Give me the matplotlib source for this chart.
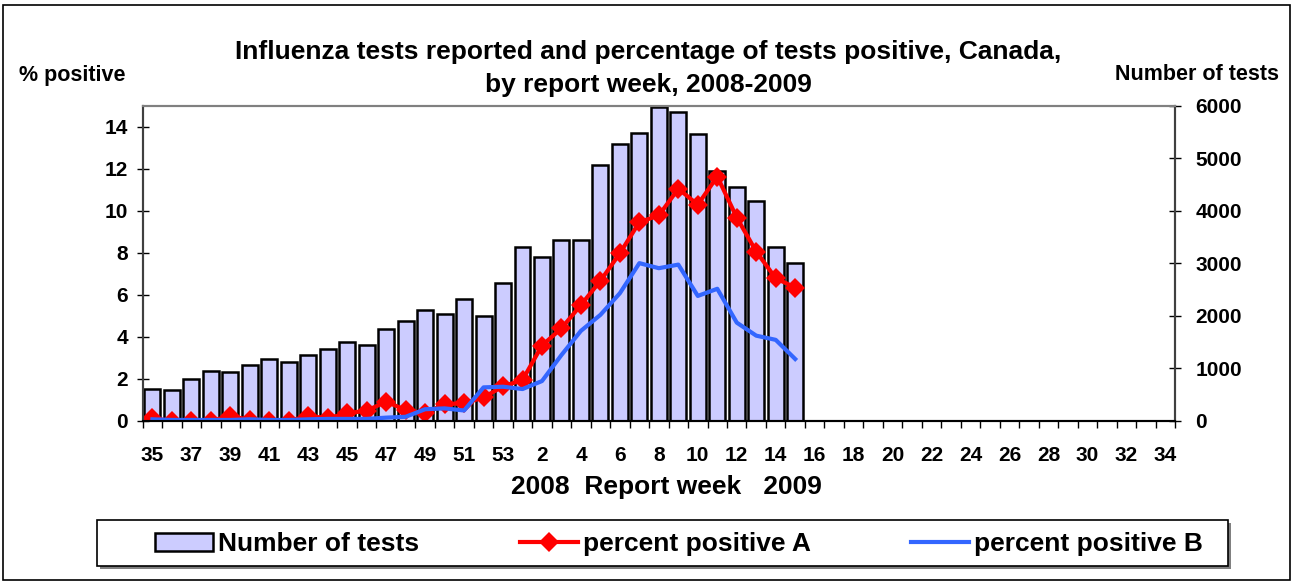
import matplotlib

matplotlib.use("Agg")
import matplotlib.pyplot as plt
from matplotlib.patches import Rectangle
import numpy as np

plt.rcParams["font.family"] = ["Liberation Sans", "DejaVu Sans"]
plt.rcParams["font.weight"] = "bold"

# report weeks: 2008 wk 35-53, then 2009 wk 1-34
weeks = list(range(35, 54)) + list(range(1, 35))
tick_weeks = list(range(35, 54, 2)) + list(range(2, 35, 2))

# number of tests (weeks 35 .. 15)
tests = [604, 585, 800, 947, 940, 1067, 1181, 1130, 1251, 1371, 1505, 1454,
         1752, 1899, 2109, 2038, 2324, 2006, 2623, 3302, 3130, 3448, 3448,
         4864, 5276, 5480, 5969, 5880, 5461, 4749, 4444, 4190, 3302, 3016]

pct_a = [0.13, 0.0, 0.0, 0.0, 0.24, 0.05, 0.0, 0.0, 0.24, 0.13, 0.37, 0.49,
         0.92, 0.52, 0.37, 0.81, 0.84, 1.12, 1.65, 1.95, 3.59, 4.41, 5.52,
         6.67, 7.98, 9.46, 9.78, 11.05, 10.29, 11.63, 9.68, 8.06, 6.79, 6.35]

pct_b = [0.08, 0.05, 0.05, 0.05, 0.05, 0.08, 0.05, 0.05, 0.08, 0.1, 0.1, 0.1,
         0.16, 0.2, 0.56, 0.6, 0.5, 1.6, 1.63, 1.52, 1.9, 3.14, 4.29,
         5.05, 6.08, 7.51, 7.27, 7.44, 5.95, 6.29, 4.68, 4.06, 3.86, 2.95]

W, H = 1298, 582
fig = plt.figure(figsize=(W / 100, H / 100), dpi=100)
fig.patches.append(Rectangle((3 / W, 2 / H), 1287 / W, 575 / H, transform=fig.transFigure,
                             fill=False, edgecolor="black", linewidth=1.2))

ax = fig.add_axes([142.7 / W, 1 - 421 / H, (1175 - 142.7) / W, (421 - 105.7) / H])
ax2 = ax.twinx()
ax.set_zorder(ax2.get_zorder() + 1)
ax.patch.set_visible(False)

n = len(weeks)
xb = np.arange(len(tests))
bars = ax2.bar(xb, tests, width=0.82, color="#CCCCFF", edgecolor="black", linewidth=1.8)
la, = ax.plot(np.arange(len(pct_a)), pct_a, color="#FF0000", lw=3, marker="D",
              markersize=10, markeredgewidth=0)
lb, = ax.plot(np.arange(len(pct_b)), pct_b, color="#3366FF", lw=3)

ax.set_xlim(-0.5, n - 0.5)
ax.set_ylim(0, 15)
ax2.set_ylim(0, 6000)
ax.set_yticks(range(0, 15, 2))
ax2.set_yticks(range(0, 6001, 1000))

# category boundary ticks, labels at every other week
ax.set_xticks(np.arange(n + 1) - 0.5)
ax.set_xticklabels([])
ax.tick_params(axis="x", which="major", direction="out", length=5, width=1)
ax.set_xticks([weeks.index(w) for w in tick_weeks], minor=True)
ax.set_xticklabels([str(w) for w in tick_weeks], minor=True, fontsize=15, fontweight="bold")
ax.tick_params(axis="x", which="minor", length=0, pad=18)

ax.tick_params(axis="y", direction="inout", length=9, width=1, labelsize=15, pad=6)
ax2.tick_params(axis="y", direction="inout", length=9, width=1, labelsize=15, pad=10)
for lab in ax.get_yticklabels() + ax2.get_yticklabels():
    lab.set_fontweight("bold")

for a in (ax, ax2):
    a.spines["top"].set_color("#808080")
    a.spines["top"].set_linewidth(1.5)
    a.spines["left"].set_color("#404040")
    a.spines["left"].set_linewidth(1.5)
    a.spines["right"].set_color("#404040")
    a.spines["right"].set_linewidth(1.5)
    a.spines["bottom"].set_linewidth(1.5)

fig.text(648 / W, 1 - 52 / H, "Influenza tests reported and percentage of tests positive, Canada,",
         ha="center", va="center", fontsize=19, fontweight="bold")
fig.text(648 / W, 1 - 85 / H, "by report week, 2008-2009",
         ha="center", va="center", fontsize=19, fontweight="bold")
fig.text(72 / W, 1 - 75 / H, "% positive", ha="center", va="center", fontsize=15.5,
         fontweight="bold")
fig.text(1197 / W, 1 - 75 / H, "Number of tests", ha="center", va="center", fontsize=15.5,
         fontweight="bold")
fig.text(666 / W, 1 - 487 / H, "2008  Report week   2009", ha="center", va="center",
         fontsize=19, fontweight="bold")

# legend box with grey shadow
fig.patches.append(Rectangle((100 / W, 1 - 569 / H), 1131 / W, 46 / H, transform=fig.transFigure,
                             facecolor="#808080", edgecolor="none"))
fig.patches.append(Rectangle((97 / W, 1 - 566 / H), 1131 / W, 46 / H, transform=fig.transFigure,
                             facecolor="white", edgecolor="black", linewidth=1.2))
leg = fig.legend([bars, la, lb], ["Number of tests", "percent positive A", "percent positive B"],
                 ncol=3, loc="center", bbox_to_anchor=(679 / W, 1 - 544 / H),
                 prop={"weight": "bold", "size": 19}, frameon=False,
                 handlelength=2.2, handletextpad=0.2, columnspacing=3.8, borderpad=0)

fig.savefig("out.png", dpi=100)
